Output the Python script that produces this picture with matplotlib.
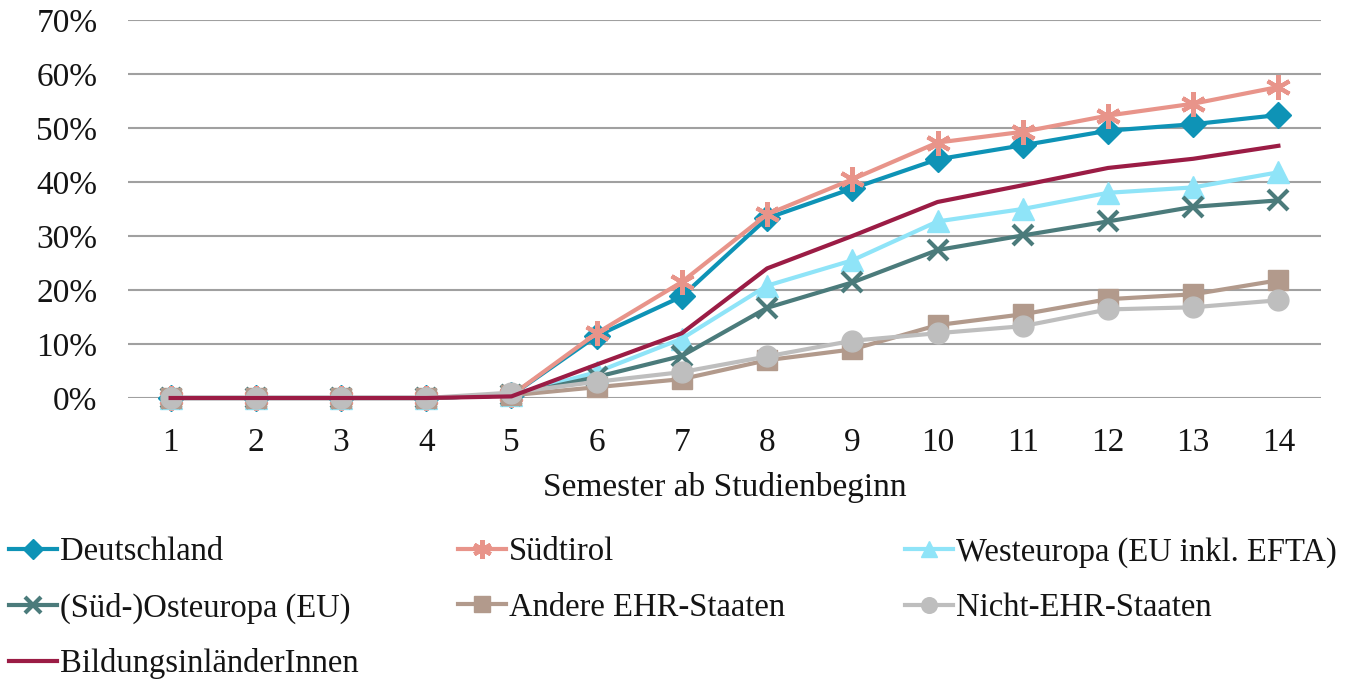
import matplotlib
matplotlib.use("Agg")
from matplotlib import pyplot as plt
from matplotlib.ticker import PercentFormatter

semester = list(range(1, 15))

deutschland = [0, 0, 0, 0, 0.5, 11.5, 18.8, 33.3, 38.8, 44.2, 46.8, 49.5, 50.7, 52.4]
suedtirol = [0, 0, 0, 0, 0.5, 12.0, 21.5, 34.0, 40.5, 47.3, 49.3, 52.3, 54.5, 57.6]
westeuropa = [0, 0, 0, 0, 0.5, 4.8, 11.0, 20.8, 25.5, 32.7, 35.0, 38.0, 39.0, 41.8]
osteuropa = [0, 0, 0, 0, 0.5, 3.9, 7.8, 16.7, 21.4, 27.4, 30.1, 32.7, 35.4, 36.6]
andere_ehr = [0, 0, 0, 0, 0.5, 2.0, 3.5, 7.0, 9.0, 13.5, 15.5, 18.3, 19.2, 21.8]
nicht_ehr = [0, 0, 0, 0, 1.0, 3.0, 4.8, 7.7, 10.6, 12.0, 13.3, 16.4, 16.8, 18.1]
bildungsinlaender = [0, 0, 0, 0, 0.3, 6.2, 12.0, 24.0, 30.0, 36.3, 39.4, 42.6, 44.3, 46.7]

plt.rcParams['font.family'] = ['Liberation Serif', 'DejaVu Serif']

fig = plt.figure(figsize=(13.46, 6.8), dpi=100)
ax = fig.add_axes([128 / 1346, 1 - 398 / 680, (1321 - 128) / 1346, (398 - 20) / 680])

series = [
    ("Deutschland", deutschland, "#0E93B6", "D", 13),
    ("Südtirol", suedtirol, "#E8948A", (6, 2, 0), 18),
    ("Westeuropa (EU inkl. EFTA)", westeuropa, "#8FE4F8", "^", 16),
    ("(Süd-)Osteuropa (EU)", osteuropa, "#4B7B7B", "x", 15),
    ("Andere EHR-Staaten", andere_ehr, "#B29A8C", "s", 15),
    ("Nicht-EHR-Staaten", nicht_ehr, "#BEBEBE", "o", 15),
    ("BildungsinländerInnen", bildungsinlaender, "#9B1C45", None, 0),
]

handles = []
for label, values, color, marker, ms in series:
    frac = [v / 100 for v in values]
    mew = 3 if marker in ("x", (6, 2, 0)) else 1
    line, = ax.plot(semester, frac, color=color, marker=marker, markersize=ms,
                    markeredgewidth=mew, linewidth=3, label=label)
    line.set_clip_on(False)
    handles.append(line)

ax.set_xlim(0.5, 14.5)
ax.set_ylim(0, 0.7)
ax.set_xticks(semester)
ax.set_yticks([i / 10 for i in range(8)])
ax.yaxis.set_major_formatter(PercentFormatter(1.0, decimals=0))
ax.grid(axis='y', color='#A0A0A0', linewidth=1.5)
ax.set_axisbelow(True)
for side in ['top', 'right', 'left', 'bottom']:
    ax.spines[side].set_visible(False)
ax.tick_params(axis='both', length=0, labelsize=24, colors='#141414')
ax.tick_params(axis='x', pad=21)
ax.tick_params(axis='y', pad=22)
ax.set_xlabel("Semester ab Studienbeginn", fontsize=24, labelpad=10, color='#141414')

# legend: three columns, each its own legend so the columns sit where they should
columns = [
    (handles[0::3], 0.0065),
    (handles[1::3], 0.340),
    (handles[2::3], 0.672),
]
for hs, x in columns:
    leg = fig.legend(handles=hs, loc='upper left', bbox_to_anchor=(x, 1 - 537 / 680),
                     frameon=False, fontsize=23.5, handlelength=1.48, handletextpad=0.1,
                     labelspacing=0.76, markerscale=0.75, borderaxespad=0, borderpad=0)
    for t in leg.get_texts():
        t.set_color('#141414')

fig.savefig("out.png", dpi=100)
